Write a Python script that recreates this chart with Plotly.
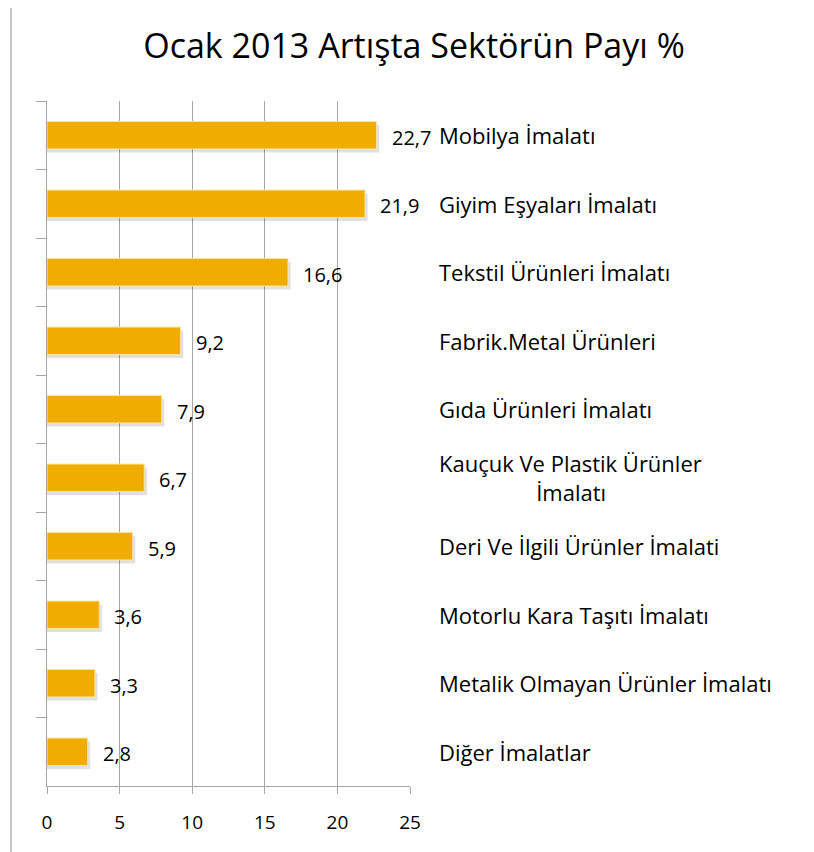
import plotly.graph_objects as go

categories = [
    "Mobilya İmalatı",
    "Giyim Eşyaları İmalatı",
    "Tekstil Ürünleri İmalatı",
    "Fabrik.Metal Ürünleri",
    "Gıda Ürünleri İmalatı",
    "Kauçuk Ve Plastik Ürünler<br>" + "&nbsp;" * 17 + "İmalatı",
    "Deri Ve İlgili Ürünler İmalati",
    "Motorlu Kara Taşıtı İmalatı",
    "Metalik Olmayan Ürünler İmalatı",
    "Diğer İmalatlar",
]
values = [22.7, 21.9, 16.6, 9.2, 7.9, 6.7, 5.9, 3.6, 3.3, 2.8]
value_labels = ["22,7", "21,9", "16,6", "9,2", "7,9", "6,7", "5,9", "3,6", "3,3", "2,8"]
x_ticks = [0, 5, 10, 15, 20, 25]

FONT = "Open Sans"
OFF = 8  # page offset of the plot div
W, H = 814, 852
# target screen positions of the plot area: x 47..410, y 101..786
L, T = 47 - OFF, 101 - OFF
pw, ph = 363, 685
R, B = W - L - pw, H - T - ph

def px_to_xp(px):
    return (px - OFF - L) / pw

def py_to_yp(py):
    return 1 - (py - OFF - T) / ph

fig = go.Figure()
# soft shadow
fig.add_trace(go.Bar(
    y=categories, x=[v + 0.18 for v in values], orientation="h",
    width=0.4, offset=-0.15,
    marker=dict(color="rgba(0,0,0,0.12)", line=dict(width=0)),
    hoverinfo="skip", showlegend=False,
))
fig.add_trace(go.Bar(
    y=categories, x=values, orientation="h",
    width=0.4, offset=-0.2,
    marker=dict(color="#F0AD00", line=dict(color="#FBE3A0", width=1)),
    showlegend=False,
))

annotations = []
for c, v, t in zip(categories, values, value_labels):
    annotations.append(dict(
        x=v, y=c, xref="x", yref="y", text=t, showarrow=False,
        xanchor="left", xshift=13, yshift=-2,
        font=dict(family=FONT, size=20, color="#000000"),
    ))
    annotations.append(dict(
        x=px_to_xp(437), y=c, xref="paper", yref="y", text=c, showarrow=False,
        xanchor="left", align="left",
        font=dict(family=FONT, size=22, color="#000000"),
    ))

fig.update_layout(
    width=W, height=H,
    margin=dict(l=L, r=R, t=T, b=B),
    paper_bgcolor="white", plot_bgcolor="white",
    barmode="overlay",
    title=dict(text="Ocak 2013 Artışta Sektörün Payı %", xref="container", x=(414 - OFF) / W,
               xanchor="center", yref="container", y=1 - (46 - OFF) / H, yanchor="middle",
               font=dict(family=FONT, size=34, color="#000000")),
    xaxis=dict(range=[0, 25], tickvals=x_ticks, ticktext=[str(v) for v in x_ticks],
               showgrid=True, gridcolor="#A6A6A6", gridwidth=1,
               showline=True, linecolor="#A6A6A6", linewidth=1,
               ticks="outside", ticklen=7, tickcolor="#A6A6A6",
               ticklabelstandoff=12,
               tickfont=dict(family=FONT, size=19, color="#000000"),
               zeroline=False, fixedrange=True),
    yaxis=dict(categoryorder="array", categoryarray=categories, autorange="reversed",
               showticklabels=False, showline=True, linecolor="#A6A6A6", linewidth=1,
               ticks="outside", tickson="boundaries", ticklen=10, tickcolor="#A6A6A6",
               showgrid=False, zeroline=False, fixedrange=True),
    annotations=annotations,
    shapes=[dict(type="rect", xref="paper", yref="paper",
                 x0=px_to_xp(11), x1=px_to_xp(840), y0=py_to_yp(880), y1=py_to_yp(3),
                 line=dict(color="#C8C8C8", width=2), fillcolor="rgba(0,0,0,0)", layer="below")],
)

fig.write_html("out.html")
